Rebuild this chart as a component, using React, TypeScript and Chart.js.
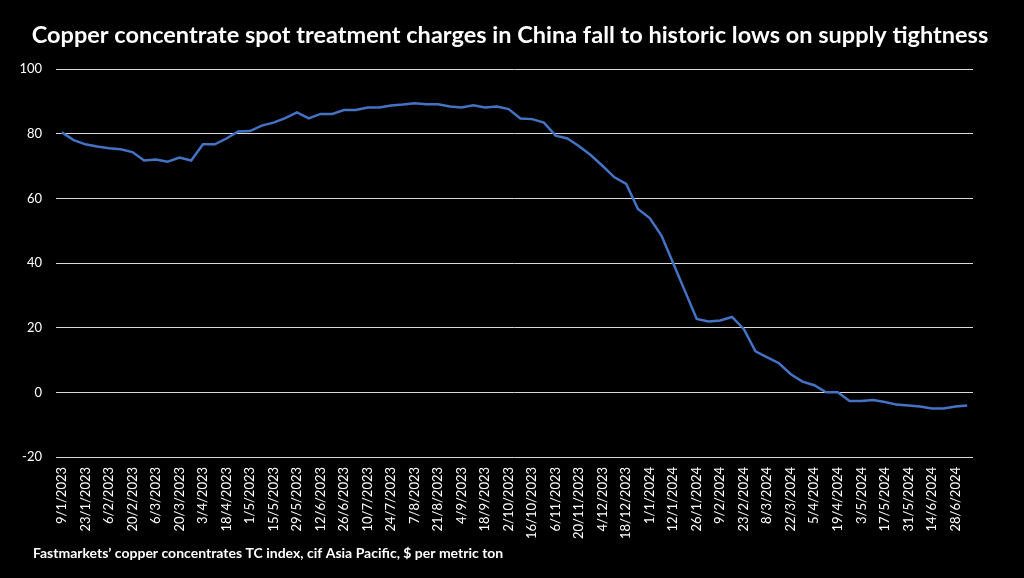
import React, { useEffect, useRef } from "react";
import { Chart, registerables } from "chart.js";

Chart.register(...registerables);

const TITLE = "Copper concentrate spot treatment charges in China fall to historic lows on supply tightness";
const FOOTNOTE = "Fastmarkets\u2019 copper concentrates TC index, cif Asia Pacific, $ per metric ton";

const dates: string[] = [
  "9/1/2023", "16/1/2023", "23/1/2023", "30/1/2023", "6/2/2023", "13/2/2023",
  "20/2/2023", "27/2/2023", "6/3/2023", "13/3/2023", "20/3/2023", "27/3/2023",
  "3/4/2023", "11/4/2023", "18/4/2023", "24/4/2023", "1/5/2023", "8/5/2023",
  "15/5/2023", "22/5/2023", "29/5/2023", "5/6/2023", "12/6/2023", "19/6/2023",
  "26/6/2023", "3/7/2023", "10/7/2023", "17/7/2023", "24/7/2023", "31/7/2023",
  "7/8/2023", "14/8/2023", "21/8/2023", "28/8/2023", "4/9/2023", "11/9/2023",
  "18/9/2023", "25/9/2023", "2/10/2023", "9/10/2023", "16/10/2023", "23/10/2023",
  "6/11/2023", "13/11/2023", "20/11/2023", "27/11/2023", "4/12/2023", "11/12/2023",
  "18/12/2023", "25/12/2023", "1/1/2024", "5/1/2024", "12/1/2024", "19/1/2024",
  "26/1/2024", "2/2/2024", "9/2/2024", "16/2/2024", "23/2/2024", "1/3/2024",
  "8/3/2024", "15/3/2024", "22/3/2024", "29/3/2024", "5/4/2024", "12/4/2024",
  "19/4/2024", "26/4/2024", "3/5/2024", "10/5/2024", "17/5/2024", "24/5/2024",
  "31/5/2024", "7/6/2024", "14/6/2024", "21/6/2024", "28/6/2024", "5/7/2024",
];

const tcValues: number[] = [
  80.4, 78.0, 76.7, 76.0, 75.5, 75.2, 74.3, 71.7, 72.0, 71.3, 72.6, 71.7,
  76.7, 76.7, 78.5, 80.7, 80.8, 82.5, 83.4, 84.8, 86.6, 84.7, 86.1, 86.1,
  87.3, 87.3, 88.1, 88.1, 88.7, 89.0, 89.4, 89.1, 89.1, 88.4, 88.1, 88.8,
  88.1, 88.4, 87.6, 84.7, 84.5, 83.4, 79.4, 78.5, 76.1, 73.3, 70.0, 66.5,
  64.5, 56.7, 53.9, 48.5, 39.9, 31.3, 22.7, 21.9, 22.2, 23.3, 19.6, 12.7,
  10.8, 9.0, 5.6, 3.3, 2.2, 0.0, 0.0, -2.7, -2.7, -2.4, -3.0, -3.8,
  -4.1, -4.4, -5.0, -5.0, -4.4, -4.1,
];

const yMin = -20;
const yMax = 100;
const yStep = 20;

export default function App() {
  const ref = useRef<HTMLCanvasElement | null>(null);

  useEffect(() => {
    if (!ref.current) return;
    const textPlugin = {
      id: "texts",
      beforeDraw(chart: any) {
        const ctx = chart.ctx;
        ctx.save();
        ctx.fillStyle = "#000000";
        ctx.fillRect(0, 0, chart.width, chart.height);
        ctx.restore();
      },
      afterDraw(chart: any) {
        const ctx = chart.ctx;
        ctx.save();
        ctx.fillStyle = "#ffffff";
        ctx.textBaseline = "middle";
        ctx.font = "bold 23.5px Lato";
        ctx.textAlign = "center";
        ctx.fillText(TITLE, 510, 35);
        ctx.font = "bold 14px Lato";
        ctx.textAlign = "left";
        ctx.fillText(FOOTNOTE, 33, 553);
        ctx.restore();
      },
    };

    const chart = new Chart(ref.current, {
      type: "line",
      data: {
        labels: dates,
        datasets: [
          {
            data: tcValues,
            borderColor: "#4472C4",
            borderWidth: 2.5,
            pointRadius: 0,
            tension: 0,
            fill: false,
          },
        ],
      },
      options: {
        responsive: false,
        animation: false,
        layout: { padding: { top: 69, left: 0, right: 51, bottom: 0 } },
        plugins: {
          legend: { display: false },
          tooltip: { enabled: false },
          title: { display: false },
        },
        scales: {
          x: {
            type: "category",
            offset: true,
            grid: { display: false, drawTicks: false },
            border: { display: false },
            afterFit(scale: any) {
              scale.height = 121;
            },
            ticks: {
              autoSkip: false,
              maxRotation: 90,
              minRotation: 90,
              padding: 10,
              color: "#ffffff",
              font: { family: "Lato", size: 13 },
              callback(_v: any, i: number) {
                return i % 2 === 0 ? dates[i] : "";
              },
            },
          },
          y: {
            min: yMin,
            max: yMax,
            grid: { color: "#d9d9d9", lineWidth: 1, drawTicks: false },
            border: { display: false },
            afterFit(scale: any) {
              scale.width = 56;
            },
            ticks: {
              stepSize: yStep,
              padding: 14,
              color: "#ffffff",
              font: { family: "Lato", size: 13 },
            },
          },
        },
      },
      plugins: [textPlugin],
    });
    return () => chart.destroy();
  }, []);

  return (
    <div style={{ position: "fixed", left: 0, top: 0, width: 1024, height: 578, background: "#000" }}>
      <canvas ref={ref} width={1024} height={578} style={{ width: 1024, height: 578, display: "block" }} />
    </div>
  );
}
